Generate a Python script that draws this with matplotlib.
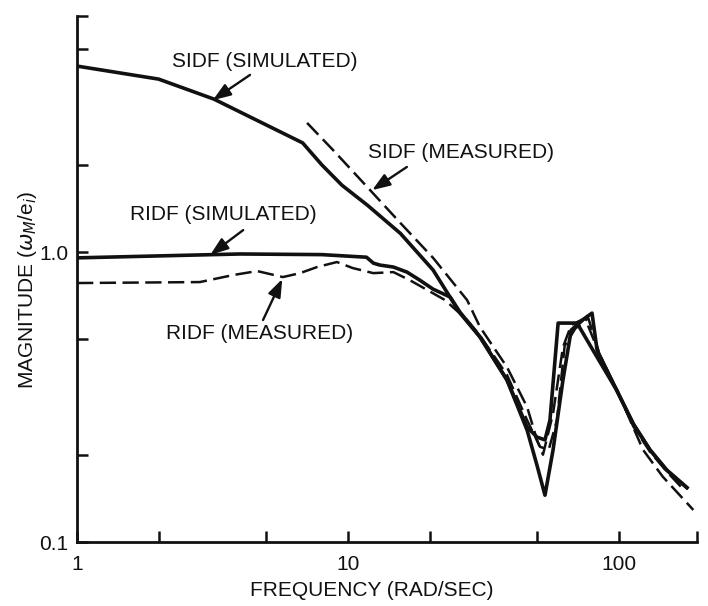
import matplotlib
matplotlib.use("Agg")
import matplotlib.pyplot as plt

plt.rcParams['font.family'] = ['Liberation Sans', 'DejaVu Sans']

# SIDF (simulated) - solid
sidf_sim_freq = [1.0, 2.0, 3.2, 6.8, 8.0, 9.5, 11.8, 15.6, 20.6, 25.9, 30.7, 38.6, 45.8, 49.8,
                 53.3, 55.6, 59.6, 70.0, 80.0, 98.0, 113, 130, 150, 178]
sidf_sim_mag = [4.38, 3.95, 3.37, 2.38, 2.0, 1.7, 1.45, 1.16, 0.867, 0.616, 0.509, 0.362, 0.249, 0.23,
                0.225, 0.263, 0.569, 0.569, 0.46, 0.334, 0.255, 0.208, 0.177, 0.154]

# RIDF (simulated) - solid
ridf_sim_freq = [1.0, 2.0, 4.0, 8.0, 11.7, 12.4, 13.1, 14.7, 16.5, 18.4, 20.6, 23.8, 25.9, 30.7,
                 38.6, 45.8, 49.8, 53.3, 57.1, 62.1, 66.6, 74.9, 79.5, 83.0, 98.0, 113, 130, 150, 178]
ridf_sim_mag = [0.955, 0.97, 0.985, 0.98, 0.96, 0.916, 0.902, 0.888, 0.853, 0.80, 0.745, 0.70, 0.62, 0.51,
                0.362, 0.243, 0.184, 0.145, 0.208, 0.362, 0.538, 0.592, 0.616, 0.458, 0.334, 0.255, 0.208, 0.177, 0.154]

# SIDF (measured) - dashed
sidf_meas_freq = [7.06, 8.8, 11.75, 15.6, 20.6, 27.5, 30.7, 38.6, 45.8, 49.8, 52.4, 57.1, 62.1,
                  66.6, 74.9, 85.0, 98.3, 122.6, 145, 188]
sidf_meas_mag = [2.79, 2.25, 1.68, 1.26, 0.955, 0.683, 0.551, 0.401, 0.292, 0.225, 0.20, 0.278, 0.47,
                 0.56, 0.592, 0.441, 0.334, 0.208, 0.168, 0.129]

# RIDF (measured) - dashed
ridf_meas_freq = [1.0, 2.84, 3.76, 4.62, 5.75, 6.65, 7.69, 9.1, 10.4, 12.4, 14.7, 16.9, 19.6, 22.8,
                  27.5, 30.7, 38.6, 45.8, 51.1, 55.0, 59.0, 63.0, 69.0, 77.0, 85.0, 98.3, 113, 130, 150, 175]
ridf_meas_mag = [0.782, 0.788, 0.833, 0.86, 0.82, 0.846, 0.888, 0.924, 0.881, 0.846, 0.853, 0.80, 0.74, 0.683,
                 0.583, 0.515, 0.377, 0.263, 0.213, 0.208, 0.263, 0.475, 0.545, 0.592, 0.441, 0.334, 0.25, 0.205, 0.175, 0.15]

x_ticks = [1, 2, 5, 10, 20, 50, 100, 194]
x_tick_labels = ['1', '', '', '10', '', '', '100', '']
y_ticks = [0.1, 0.2, 0.5, 1.0, 2.0, 5.0, 6.52]
y_tick_labels = ['0.1', '', '', '1.0', '', '', '']

fig = plt.figure(figsize=(7.08, 6.06), dpi=100)
ax = fig.add_axes([0.1088, 0.1056, 0.8757, 0.868])

ink = '#111111'
dash = (0, (6.5, 2.6))
ax.plot(sidf_sim_freq, sidf_sim_mag, color=ink, lw=2.6)
ax.plot(ridf_sim_freq, ridf_sim_mag, color=ink, lw=2.6)
ax.plot(sidf_meas_freq, sidf_meas_mag, color=ink, lw=1.8, linestyle=dash)
ax.plot(ridf_meas_freq, ridf_meas_mag, color=ink, lw=1.8, linestyle=dash)

ax.set_xscale('log')
ax.set_yscale('log')
ax.set_xlim(1, 194)
ax.set_ylim(0.1, 6.52)
ax.minorticks_off()
ax.set_xticks(x_ticks)
ax.set_xticklabels(x_tick_labels)
ax.set_yticks(y_ticks)
ax.set_yticklabels(y_tick_labels)
ax.tick_params(direction='in', length=8, width=1.8, labelsize=15, color=ink, labelcolor=ink)
ax.tick_params(axis='x', pad=9)
ax.tick_params(axis='y', pad=6)

for side in ['top', 'right']:
    ax.spines[side].set_visible(False)
for side in ['left', 'bottom']:
    ax.spines[side].set_linewidth(2.0)
    ax.spines[side].set_color(ink)

ax.set_xlabel('FREQUENCY (RAD/SEC)', fontsize=15, color=ink)
ax.xaxis.set_label_coords(0.476, -0.075)
ax.set_ylabel(r'MAGNITUDE ($\omega_M$/e$_i$)', fontsize=15, color=ink)
ax.yaxis.set_label_coords(-0.062, 0.48)

# curve labels with arrows (axes fraction)
labels = [
    ('SIDF (SIMULATED)', (0.153, 0.913), (0.279, 0.888), (0.219, 0.840)),
    ('SIDF (MEASURED)', (0.469, 0.740), (0.532, 0.713), (0.476, 0.669)),
    ('RIDF (SIMULATED)', (0.085, 0.622), (0.268, 0.593), (0.215, 0.546)),
    ('RIDF (MEASURED)', (0.143, 0.397), (0.300, 0.422), (0.331, 0.500)),
]
for text, pos, tail, tip in labels:
    ax.text(pos[0], pos[1], text, transform=ax.transAxes, fontsize=15,
            ha='left', va='center', color=ink)
    ax.annotate('', xy=tip, xytext=tail, xycoords='axes fraction',
                arrowprops=dict(arrowstyle='-|>,head_length=0.6,head_width=0.22',
                                color=ink, lw=1.7, mutation_scale=18,
                                shrinkA=0, shrinkB=0))

fig.savefig('out.png', dpi=100, facecolor='white')
